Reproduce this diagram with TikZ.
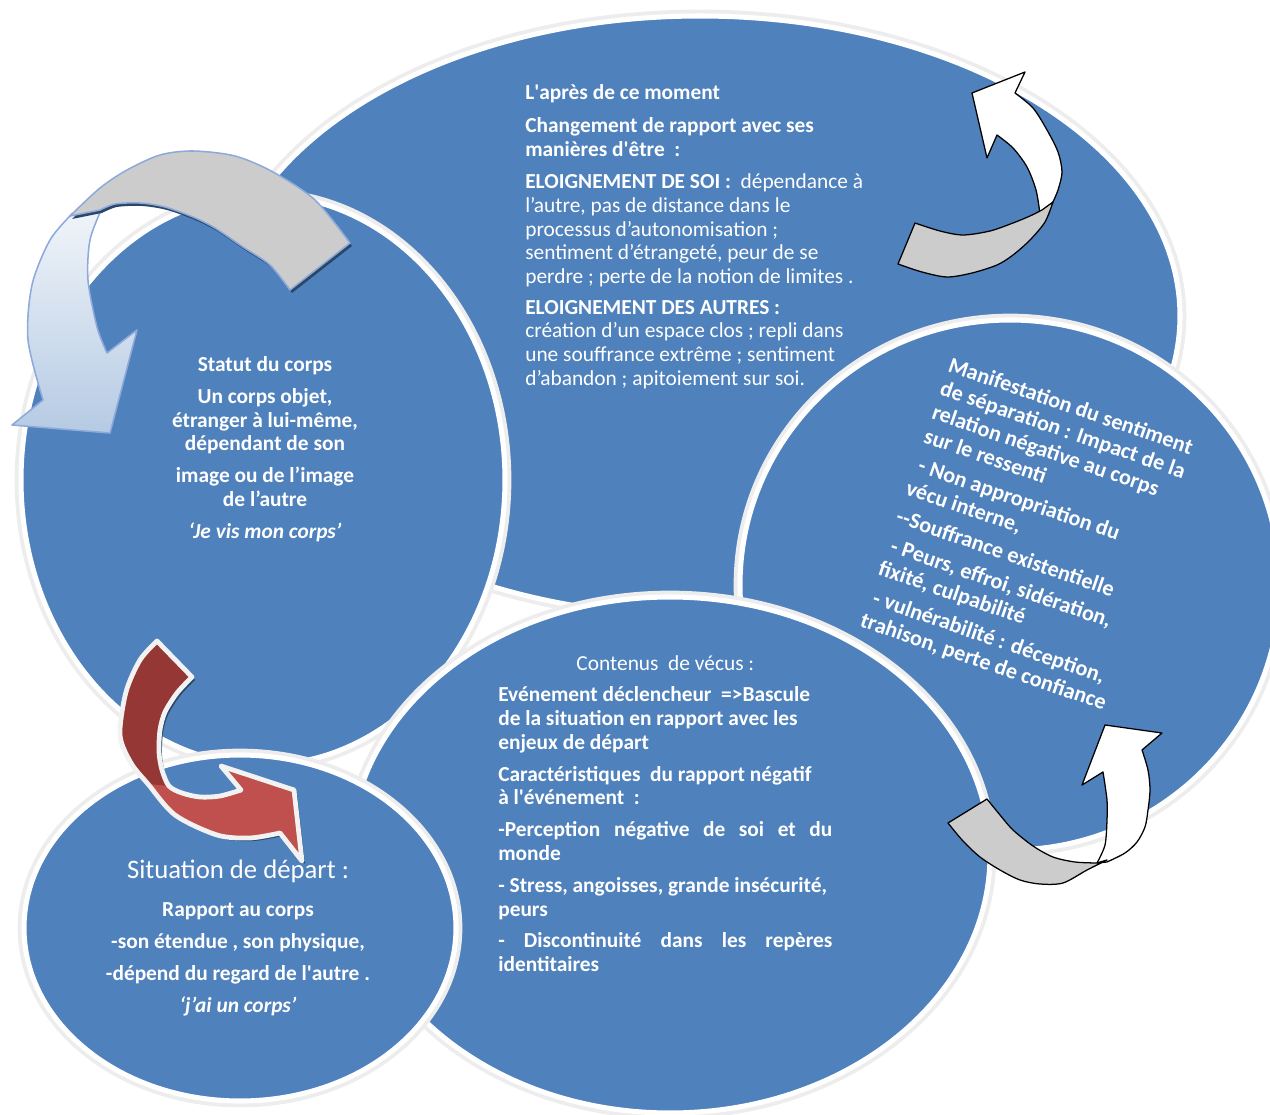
\documentclass[tikz,border=0pt]{standalone}
\usepackage{fontspec}
\setmainfont{Carlito}
\usetikzlibrary{positioning}
\definecolor{bleu}{HTML}{4F81BD}
\definecolor{rougefonce}{HTML}{953735}
\definecolor{rougeclair}{HTML}{C0504D}
\definecolor{grisruban}{HTML}{CCCCCC}
\definecolor{bordbleu}{HTML}{8EAADB}
\newcommand{\corps}{\fontsize{15.2}{16.85}\selectfont}
\newcommand{\apo}{\textquotesingle}
\tikzset{
  bulle/.style={fill=bleu, draw=white, line width=3.6pt},
  halo/.style={draw=black!7, line width=6.2pt},
  texte/.style={text=white, inner sep=0pt},
  ruban/.style={fill=grisruban, draw=black, line width=0.9pt, line join=round},
  pointe/.style={fill=white, draw=black, line width=0.9pt, line join=round},
  ombre/.style={fill=black!45!bleu},
}
\begin{document}
\begin{tikzpicture}[x=0.025cm, y=-0.025cm]
		\useasboundingbox (0,0) rectangle (1270,1115);
		% Bulle : l'après
		\draw[halo] (700,316) ellipse (482 and 302);
		\draw[bulle] (700,316) ellipse (480 and 300);
		% Bulle : statut du corps
		\draw[halo] (263,480) ellipse (244 and 287);
		\draw[bulle] (263,480) ellipse (242 and 285);
		% Bulle : manifestation
		\draw[halo] (1010,585) ellipse (272 and 267);
		\draw[bulle] (1010,585) ellipse (270 and 265);
		% Bulle : contenus de vécus
		\draw[halo] (670,855) ellipse (322 and 260);
		\draw[bulle] (670,855) ellipse (320 and 258);
		% Bulle : situation de départ
		\draw[halo] (240,928) ellipse (218 and 175);
		\draw[bulle] (240,928) ellipse (216 and 173);

		% Flèche en haut à gauche
		\fill[top color=white!92!bleu, bottom color=bleu!42, draw=bordbleu, line width=1.1pt, line join=round]
			(72,214) -- plot[smooth] coordinates {(72,214) (50,240) (32,285) (28,340) (43,400)}
			-- (12,425) -- (110,433) -- (137,330) -- (107,353)
			-- plot[smooth] coordinates {(107,353) (97,327) (88,280) (90,240) (102,208)} -- cycle;
		\fill[ombre, shift={(2,3)}]
			plot[smooth] coordinates {(70,216) (100,188) (127,170) (160,155) (193,151) (235,156) (273,172) (315,200) (350,243)}
			-- (290,290) -- plot[smooth] coordinates {(290,290) (270,265) (243,247) (215,228) (193,217) (165,207) (140,203) (115,204) (100,210)} -- cycle;
		\filldraw[fill=grisruban, draw=bordbleu, line width=1.1pt, line join=round]
			plot[smooth] coordinates {(70,216) (100,188) (127,170) (160,155) (193,151) (235,156) (273,172) (315,200) (350,243)}
			-- (290,290) -- plot[smooth] coordinates {(290,290) (270,265) (243,247) (215,228) (193,217) (165,207) (140,203) (115,204) (100,210)} -- cycle;

		% Flèche rouge
		\fill[ombre, shift={(3,3)}]
			(157,641) -- plot[smooth] coordinates {(157,641) (140,660) (126,692) (120,735) (131,763) (148,784) (175,815) (217,835) (250,838) (280,833)}
			-- (302,861) -- (294,790) -- (221,766) -- (241,790)
			-- plot[smooth] coordinates {(241,790) (220,796) (200,797) (182,793) (169,786) (162,770) (159,752) (160,730) (165,712) (177,693) (192,677)} -- cycle;
		\fill[rougeclair]
			(157,641) -- plot[smooth] coordinates {(157,641) (140,660) (126,692) (120,735) (131,763) (148,784) (175,815) (217,835) (250,838) (280,833)}
			-- (302,861) -- (294,790) -- (221,766) -- (241,790)
			-- plot[smooth] coordinates {(241,790) (220,796) (200,797) (182,793) (169,786) (162,770) (159,752) (160,730) (165,712) (177,693) (192,677)} -- cycle;
		\fill[rougefonce]
			(157,641) -- plot[smooth] coordinates {(157,641) (140,660) (126,692) (120,735) (131,763) (148,784)}
			-- (169,786) -- plot[smooth] coordinates {(169,786) (162,770) (159,752) (160,730) (165,712) (177,693) (192,677)} -- cycle;
		\draw[draw=white!95!black, line width=3.4pt, line join=round]
			(157,641) -- plot[smooth] coordinates {(157,641) (140,660) (126,692) (120,735) (131,763) (148,784) (175,815) (217,835) (250,838) (280,833)}
			-- (302,861) -- (294,790) -- (221,766) -- (241,790)
			-- plot[smooth] coordinates {(241,790) (220,796) (200,797) (182,793) (169,786) (162,770) (159,752) (160,730) (165,712) (177,693) (192,677)} -- cycle;

		% Flèche en haut à droite
		\filldraw[pointe]
			(1040,214) -- plot[smooth] coordinates {(1040,214) (1036,190) (1027,167) (1013,148) (997,135)}
			-- (987,158) -- (972,93) -- (1025,72) -- (1015,93)
			-- plot[smooth] coordinates {(1015,93) (1033,108) (1047,130) (1058,152) (1062,172) (1058,190) (1052,204)} -- cycle;
		\filldraw[ruban]
			(898,264) -- (915,223) -- plot[smooth] coordinates {(915,223) (940,231) (963,235) (990,231) (1013,223) (1030,216) (1042,210)}
			-- (1053,202) -- plot[smooth] coordinates {(1053,202) (1045,222) (1030,240) (1013,255) (997,265) (972,273) (947,277) (922,272) (898,264)} -- cycle;

		% Flèche en bas à droite
		\filldraw[pointe]
			(1097,863) -- plot[smooth] coordinates {(1097,863) (1105,845) (1107,820) (1107,800) (1103,772)}
			-- (1082,785) -- (1105,725) -- (1162,733) -- (1142,750)
			-- plot[smooth] coordinates {(1142,750) (1148,770) (1150,790) (1148,810) (1145,827) (1137,842) (1125,853) (1107,862)} -- cycle;
		\filldraw[ruban]
			(948,823) -- (987,799) -- plot[smooth] coordinates {(987,799) (1000,815) (1013,830) (1033,846) (1053,857) (1075,862) (1097,863)}
			-- (1107,860) -- plot[smooth] coordinates {(1107,860) (1087,870) (1063,883) (1040,884) (1020,880) (1000,870) (980,857) (963,841) (948,823)} -- cycle;

		% Textes
		\node[texte, anchor=north west, align=left, font=\corps] (apres) at (525,84) {%
			\textbf{L\apo après de ce moment}\\[7pt]
			\textbf{Changement de rapport avec ses}\\
			\textbf{manières d\apo être\ \ :}\\[6pt]
			\textbf{ELOIGNEMENT DE SOI :}\ \ dépendance à\\
			l’autre, pas de distance dans le\\
			processus d’autonomisation ;\\
			sentiment d’étrangeté, peur de se\\
			perdre ; perte de la notion de limites .\\[5pt]
			\textbf{ELOIGNEMENT DES AUTRES :}\\
			création d’un espace clos ; repli dans\\
			une souffrance extrême ; sentiment\\
			d’abandon ; apitoiement sur soi.};
		\node[texte, anchor=north, align=center, font=\corps\bfseries] (statut) at (265,356) {%
			Statut du corps\\[6pt]
			Un corps objet,\\
			étranger à lui-même,\\
			dépendant de son\\[6pt]
			image ou de l’image\\
			de l’autre\\[6pt]
			\itshape `Je vis mon corps'};
		\node[texte, anchor=north, align=center, font=\corps\bfseries] (depart) at (238,860) {%
			{\fontsize{19}{22}\selectfont\mdseries Situation de départ :}\\[10pt]
			Rapport au corps\\[6pt]
			-son étendue , son physique,\\[6pt]
			-dépend du regard de l\apo autre .\\[6pt]
			\itshape `j'ai un corps'};
		\node[texte, anchor=north west, align=left, font=\corps] (contenus) at (498,655) {%
			\makebox[8.35cm][c]{Contenus\ \ de vécus :}\\[5.8pt]
			\textbf{Evénement déclencheur\ \ =>Bascule}\\
			\textbf{de la situation en rapport avec les}\\
			\textbf{enjeux de départ}\\[5.8pt]
			\textbf{Caractéristiques\ \ du rapport négatif}\\
			\textbf{à l\apo événement\ \ :}\\[5.8pt]
			\makebox[8.35cm][s]{\bfseries -Perception négative de soi et du}\\
			\textbf{monde}\\[5.8pt]
			\textbf{- Stress, angoisses, grande insécurité,}\\
			\textbf{peurs}\\[5.8pt]
			\makebox[8.35cm][s]{\bfseries - Discontinuité dans les repères}\\
			\textbf{identitaires}};
		\node[texte, anchor=north west, align=left, rotate=-19, font=\fontsize{15.8}{17.8}\selectfont\bfseries] (manif) at (952,356) {%
			Manifestation du sentiment\\
			de séparation : Impact de la\\
			relation négative au corps\\
			sur le ressenti\\[3.5pt]
			\hspace{3pt}- Non appropriation du\\
			vécu interne,\\[3.5pt]
			-{}-Souffrance existentielle\\[3.5pt]
			\hspace{3pt}- Peurs, effroi, sidération,\\
			fixité, culpabilité\\[3.5pt]
			\hspace{3pt}- vulnérabilité : déception,\\
			trahison, perte de confiance};
	\end{tikzpicture}
\end{document}
